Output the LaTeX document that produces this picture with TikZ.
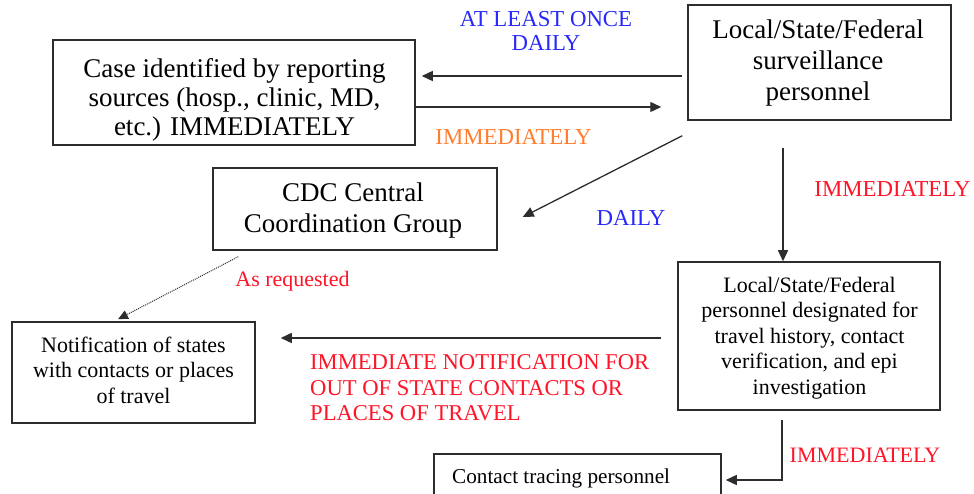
\documentclass[tikz,border=0pt]{standalone}
\usepackage{fontspec}
\setmainfont{Liberation Serif}
\usetikzlibrary{arrows.meta}
\definecolor{lblue}{RGB}{40,40,250}
\definecolor{lred}{RGB}{255,20,40}
\definecolor{lorange}{RGB}{255,125,45}
\definecolor{lline}{RGB}{45,45,45}
\tikzset{
  boxshape/.style={draw=lline, line width=1.5pt, rectangle, inner sep=0pt},
  bigtext/.style={align=center, inner sep=0pt, font=\fontsize{27}{29}\selectfont},
  smalltext/.style={align=center, inner sep=0pt, font=\fontsize{22}{25.4}\selectfont},
  lbl/.style={inner sep=0pt, font=\fontsize{22.8}{25.4}\selectfont},
  arr/.style={draw=lline, line width=1.3pt, -{Triangle[length=11pt,width=10pt]}},
  dotarr/.style={draw=lline, line width=1pt, densely dotted, -{Triangle[length=10pt,width=9pt]}}
}
\begin{document}
\begin{tikzpicture}[x=1pt,y=-1pt]
\clip (0,0) rectangle (974,494);
\fill[white] (0,0) rectangle (974,494);

% boxes
\node[boxshape, minimum width=362pt, minimum height=105pt] (box1) at (234,92.5) {};
\node[bigtext] (t1) at (234.5,100) {Case identified by reporting\\sources (hosp., clinic, MD,\\etc.) IMMEDIATELY};

\node[boxshape, minimum width=263pt, minimum height=115pt] (box2) at (819.5,62.5) {};
\node[bigtext, font=\fontsize{27}{31}\selectfont] (t2) at (818,63) {Local/State/Federal\\surveillance\\personnel};

\node[boxshape, minimum width=284pt, minimum height=82pt] (box3) at (355,209) {};
\node[bigtext, font=\fontsize{27}{31}\selectfont] (t3) at (353,211) {CDC Central\\Coordination Group};

\node[boxshape, minimum width=243pt, minimum height=101pt] (box4) at (133.5,372.5) {};
\node[smalltext] (t4) at (133.5,370) {Notification of states\\with contacts or places\\of travel};

\node[boxshape, minimum width=262pt, minimum height=148pt] (box5) at (809,336) {};
\node[smalltext] (t5) at (809.5,338) {Local/State/Federal\\personnel designated for\\travel history, contact\\verification, and epi\\investigation};

\node[boxshape, minimum width=287pt, minimum height=56pt] (box6) at (577.5,482) {};
\node[lbl, anchor=base west, font=\fontsize{21.2}{25}\selectfont] (t6) at (452,483) {Contact tracing personnel};

% connectors
\draw[arr] ([xshift=-5pt,yshift=-13.5pt]box2.west) -- ([xshift=6pt,yshift=16.5pt]box1.east);
\draw[arr] ([yshift=-14.5pt]box1.east) -- ([xshift=-26pt,yshift=-44.5pt]box2.west);
\draw[arr] ([xshift=-5pt,yshift=-15pt]box2.south west) -- ([xshift=25pt,yshift=-8pt]box3.east);
\draw[arr] ([xshift=-36.5pt,yshift=-27pt]box2.south) -- ([xshift=-26pt]box5.north);
\draw[dotarr] ([xshift=26pt,yshift=-6pt]box3.south west) -- ([xshift=-15.5pt,yshift=2pt]box4.north);
\draw[arr] ([xshift=-16pt,yshift=-2pt]box5.west) -- ([xshift=25pt,yshift=34.5pt]box4.east);
\draw[arr] ([xshift=-27pt,yshift=-9pt]box5.south) |- ([xshift=4pt,yshift=2pt]box6.east);

% labels
\node[lbl, align=center, text=lblue, font=\fontsize{22.8}{24.5}\selectfont] (l1) at (546,31) {AT LEAST ONCE\\DAILY};
\node[lbl, anchor=base, text=lorange] (l2) at (513.5,145) {IMMEDIATELY};
\node[lbl, anchor=base, text=lblue] (l3) at (631,226) {DAILY};
\node[lbl, anchor=base, text=lred] (l4) at (892.5,197) {IMMEDIATELY};
\node[lbl, anchor=base, text=lred, font=\fontsize{22}{25.4}\selectfont] (l5) at (292.5,287) {As requested};
\node[lbl, anchor=west, align=left, text=lred, font=\fontsize{22.6}{25.5}\selectfont] (l6) at (310,388) {IMMEDIATE NOTIFICATION FOR\\OUT OF STATE CONTACTS OR\\PLACES OF TRAVEL};
\node[lbl, anchor=base, text=lred, font=\fontsize{22}{25.4}\selectfont] (l7) at (865,462) {IMMEDIATELY};
\end{tikzpicture}
\end{document}
